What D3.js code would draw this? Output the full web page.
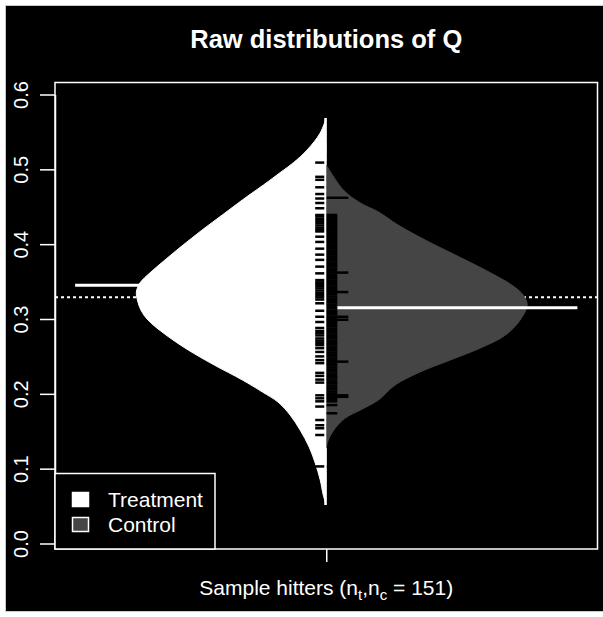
<!DOCTYPE html>
<html>
<head>
<meta charset="utf-8">
<script src="https://cdn.jsdelivr.net/npm/d3@7"></script>
<style>
  html, body { margin: 0; padding: 0; background: #fff; }
  svg { display: block; font-family: "Liberation Sans", Arial, Helvetica, sans-serif; }
</style>
</head>
<body>
<div id="chart"></div>
<script>
/* Split bean plot of Q: treatment (left, white) vs control (right, grey). */

const yTicks = [0.0, 0.1, 0.2, 0.3, 0.4, 0.5, 0.6];

// density outline: Q value -> half width of the bean
const treatGridQ = [0.0515, 0.0648, 0.0849, 0.1076, 0.1289, 0.1516, 0.1717, 0.1890, 0.2024, 0.2185,
  0.2385, 0.2586, 0.2786, 0.2987, 0.3120, 0.3254, 0.3361, 0.3481, 0.3628, 0.3789, 0.3989,
  0.4190, 0.4390, 0.4591, 0.4791, 0.4965, 0.5085, 0.5259, 0.5486, 0.5686];
const treatWidth = [0.000, 0.006, 0.012, 0.022, 0.034, 0.052, 0.072, 0.096, 0.127, 0.167,
  0.223, 0.275, 0.319, 0.355, 0.369, 0.376, 0.378, 0.371, 0.349, 0.321, 0.285,
  0.247, 0.207, 0.167, 0.125, 0.090, 0.066, 0.038, 0.012, 0.000];

const ctrlGridQ = [0.1276, 0.1383, 0.1543, 0.1677, 0.1784, 0.1918, 0.2118, 0.2292, 0.2452, 0.2613,
  0.2786, 0.2987, 0.3187, 0.3321, 0.3455, 0.3588, 0.3722, 0.3855, 0.4056, 0.4256,
  0.4430, 0.4550, 0.4724, 0.5059];
const ctrlWidth = [0.000, 0.004, 0.018, 0.038, 0.068, 0.104, 0.137, 0.187, 0.247, 0.307,
  0.357, 0.386, 0.400, 0.392, 0.369, 0.335, 0.297, 0.257, 0.197, 0.143,
  0.104, 0.068, 0.034, 0.000];

// individual observations (bean lines), duplicates draw longer
const treatObs = [0.509, 0.490, 0.486, 0.476, 0.467, 0.461, 0.455, 0.448, 0.439, 0.437,
  0.434, 0.431, 0.428, 0.425, 0.422, 0.419, 0.417, 0.410, 0.403, 0.394, 0.386, 0.379,
  0.370, 0.361, 0.352, 0.349, 0.347, 0.344, 0.341, 0.338, 0.335, 0.332, 0.329, 0.326,
  0.321, 0.311, 0.303, 0.296, 0.288, 0.284, 0.281, 0.278, 0.274, 0.271, 0.268, 0.265,
  0.261, 0.256, 0.250, 0.245, 0.241, 0.228, 0.224, 0.219, 0.215, 0.198, 0.194, 0.190,
  0.183, 0.165, 0.158, 0.154, 0.145, 0.103];
const ctrlObs = [0.462, 0.462, 0.439, 0.436, 0.434, 0.431, 0.428, 0.426, 0.423, 0.420,
  0.418, 0.415, 0.412, 0.410, 0.407, 0.404, 0.402, 0.399, 0.396, 0.394, 0.391, 0.388,
  0.386, 0.383, 0.380, 0.378, 0.375, 0.372, 0.370, 0.367, 0.364, 0.362, 0.362, 0.359,
  0.356, 0.354, 0.351, 0.348, 0.346, 0.343, 0.340, 0.338, 0.336, 0.336, 0.333, 0.330,
  0.327, 0.324, 0.322, 0.319, 0.316, 0.314, 0.311, 0.308, 0.306, 0.303, 0.303, 0.300,
  0.299, 0.299, 0.297, 0.295, 0.292, 0.290, 0.287, 0.284, 0.282, 0.279, 0.276, 0.274,
  0.271, 0.268, 0.266, 0.263, 0.260, 0.258, 0.255, 0.252, 0.250, 0.247, 0.244, 0.243,
  0.243, 0.240, 0.238, 0.235, 0.232, 0.230, 0.227, 0.224, 0.222, 0.219, 0.216, 0.214,
  0.211, 0.208, 0.206, 0.203, 0.200, 0.198, 0.198, 0.196, 0.196, 0.193, 0.190, 0.185, 0.174];

const treatMean = 0.345;
const ctrlMean = 0.315;
const overallMean = 0.329;

const legendLabels = ["Treatment", "Control"];
const COLORS = { bg: "#000", fg: "#fff", treat: "#fff", ctrl: "#454545", lines: "#000" };

const W = 603, H = 617;
const box = { left: 55, right: 597.5, top: 82.5, bottom: 549 };

const svg = d3.select("#chart").append("svg").attr("width", W).attr("height", H);

svg.append("rect").attr("x", 5.5).attr("y", 5.5).attr("width", 600).attr("height", 606)
  .attr("fill", COLORS.bg).attr("stroke", "#c8c8c8").attr("stroke-width", 1);

const y = d3.scaleLinear().domain([0, 0.6]).range([543.5, 94.5]);
const x = d3.scaleLinear().domain([0.46, 1.54]).range([box.left, box.right]);

// overall mean, dotted, under the beans
svg.append("line")
  .attr("x1", box.left).attr("x2", box.right)
  .attr("y1", y(overallMean)).attr("y2", y(overallMean))
  .attr("stroke", COLORS.fg).attr("stroke-width", 2).attr("stroke-dasharray", "3,3");

// beans
const treatArea = d3.area().curve(d3.curveCatmullRom.alpha(0.5))
  .y(d => y(d.q)).x0(d => x(1 - d.w)).x1(x(1));
const ctrlArea = d3.area().curve(d3.curveCatmullRom.alpha(0.5))
  .y(d => y(d.q)).x0(x(1)).x1(d => x(1 + d.w));

svg.append("path").datum(treatGridQ.map((q, i) => ({ q, w: treatWidth[i] })))
  .attr("d", treatArea).attr("fill", COLORS.treat)
  .attr("stroke", COLORS.treat).attr("stroke-width", 1);
svg.append("path").datum(ctrlGridQ.map((q, i) => ({ q, w: ctrlWidth[i] })))
  .attr("d", ctrlArea).attr("fill", COLORS.ctrl)
  .attr("stroke", COLORS.ctrl).attr("stroke-width", 1);

// group means
svg.append("line")
  .attr("x1", x(0.5)).attr("x2", x(1)).attr("y1", y(treatMean)).attr("y2", y(treatMean))
  .attr("stroke", COLORS.fg).attr("stroke-width", 3);
svg.append("line")
  .attr("x1", x(1)).attr("x2", x(1.5)).attr("y1", y(ctrlMean)).attr("y2", y(ctrlMean))
  .attr("stroke", COLORS.fg).attr("stroke-width", 3);

// bean lines
const lineLen = 0.022;
function drawObs(vals, dir) {
  const counts = d3.rollups(vals, v => v.length, d => d);
  svg.append("g").selectAll("line").data(counts).join("line")
    .attr("x1", x(1)).attr("x2", d => x(1 + dir * lineLen * d[1]))
    .attr("y1", d => y(d[0])).attr("y2", d => y(d[0]))
    .attr("stroke", COLORS.lines).attr("stroke-width", 2.5);
}
drawObs(treatObs, -1);
drawObs(ctrlObs, 1);

// thin centre line of the treatment bean
svg.append("line")
  .attr("x1", x(1) - 1).attr("x2", x(1) - 1)
  .attr("y1", y(d3.min(treatGridQ))).attr("y2", y(d3.max(treatGridQ)))
  .attr("stroke", COLORS.treat).attr("stroke-width", 2);

// plot frame
svg.append("rect")
  .attr("x", box.left).attr("y", box.top)
  .attr("width", box.right - box.left).attr("height", box.bottom - box.top)
  .attr("fill", "none").attr("stroke", COLORS.fg).attr("stroke-width", 1.5);

// y axis
const yAxis = svg.append("g").attr("transform", `translate(${box.left},0)`)
  .call(d3.axisLeft(y).tickValues(yTicks).tickFormat(d3.format(".1f"))
    .tickSize(15).tickSizeOuter(0));
yAxis.select(".domain").attr("stroke", COLORS.fg).attr("stroke-width", 1.5);
yAxis.selectAll(".tick line").attr("stroke", COLORS.fg).attr("stroke-width", 1.5);
yAxis.selectAll(".tick text")
  .attr("x", null).attr("dy", null)
  .attr("transform", "translate(-27,0) rotate(-90)")
  .attr("text-anchor", "middle")
  .attr("fill", COLORS.fg).attr("font-size", 20)
  .attr("font-family", "Liberation Sans, Arial, sans-serif");

// x axis: single tick at the bean
const xAxis = svg.append("g").attr("transform", `translate(0,${box.bottom})`)
  .call(d3.axisBottom(x).tickValues([1]).tickFormat("").tickSize(13).tickSizeOuter(0));
xAxis.select(".domain").remove();
xAxis.selectAll(".tick line").attr("stroke", COLORS.fg).attr("stroke-width", 1.5);

const xLab = svg.append("text")
  .attr("x", x(1)).attr("y", 595).attr("text-anchor", "middle")
  .attr("fill", COLORS.fg).attr("font-size", 21);
xLab.append("tspan").text("Sample hitters (n");
xLab.append("tspan").attr("dy", 5).attr("font-size", 15).text("t");
xLab.append("tspan").attr("dy", -5).text(",n");
xLab.append("tspan").attr("dy", 5).attr("font-size", 15).text("c");
xLab.append("tspan").attr("dy", -5).text(" = 151)");

// title
svg.append("text")
  .attr("x", x(1)).attr("y", 48).attr("text-anchor", "middle")
  .attr("fill", COLORS.fg).attr("font-size", 25.5).attr("font-weight", "bold")
  .text("Raw distributions of Q");

// legend
const lg = svg.append("g");
lg.append("rect").attr("x", box.left).attr("y", 473.5)
  .attr("width", 160).attr("height", box.bottom - 473.5)
  .attr("fill", COLORS.bg).attr("stroke", COLORS.fg).attr("stroke-width", 1.5);
const legendFill = [COLORS.treat, COLORS.ctrl];
legendLabels.forEach((name, i) => {
  const yy = 492 + i * 25;
  lg.append("rect").attr("x", 72.5).attr("y", yy + 0.5).attr("width", 16).attr("height", 14)
    .attr("fill", legendFill[i]).attr("stroke", COLORS.fg).attr("stroke-width", 1.5);
  lg.append("text").attr("x", 108).attr("y", yy + 15)
    .attr("fill", COLORS.fg).attr("font-size", 21).text(name);
});
</script>
</body>
</html>
